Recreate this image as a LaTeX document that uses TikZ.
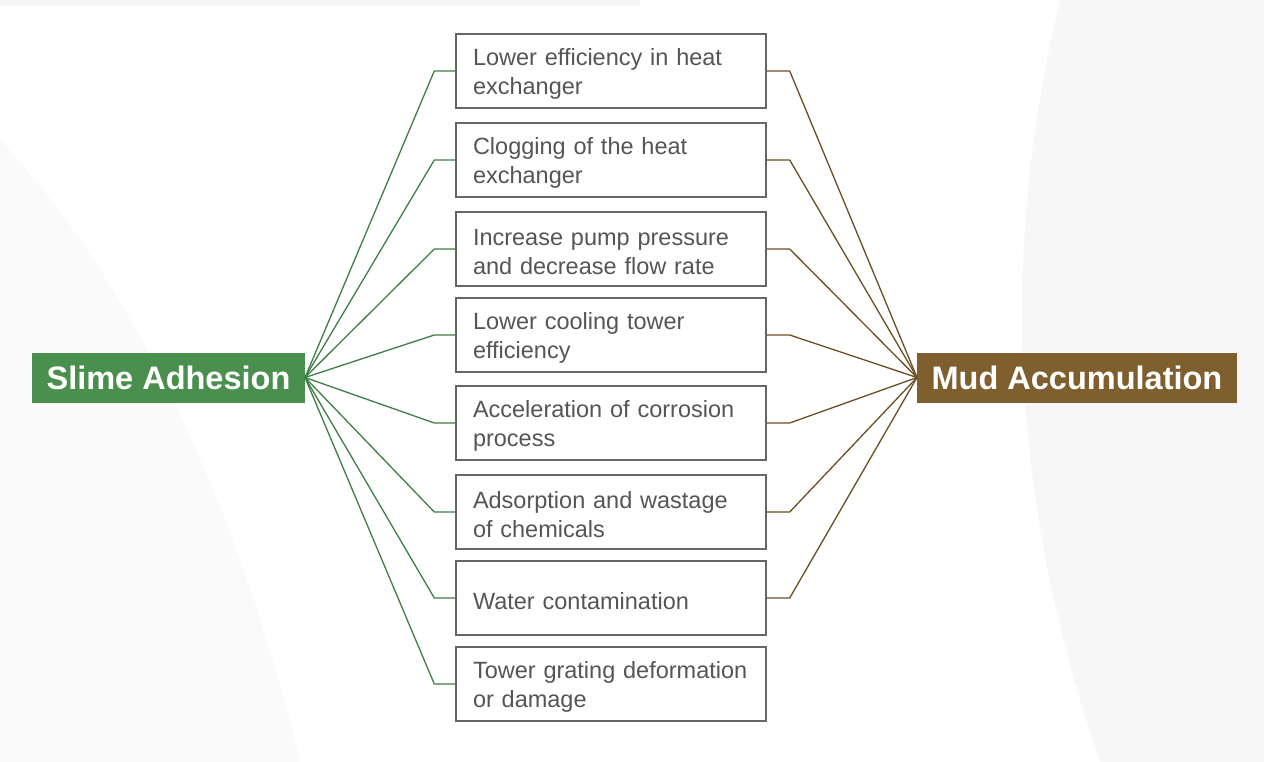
\documentclass[tikz,border=0pt]{standalone}
\usepackage{fontspec}
\setmainfont{Liberation Sans}
\definecolor{gr}{HTML}{4A8F4E}
\definecolor{grl}{HTML}{3F7E45}
\definecolor{br}{HTML}{7F5F2E}
\definecolor{brl}{HTML}{6B4E24}
\definecolor{tx}{HTML}{555555}
\begin{document}
\begin{tikzpicture}[x=1pt,y=-1pt,
  item/.style={draw=tx!90,line width=1.4pt,minimum width=310pt,minimum height=74pt,text width=276pt,align=left,inner sep=0pt,font=\fontsize{23.5}{29}\selectfont,text=tx,anchor=center},
  lbl/.style={text width=276pt,align=left,inner sep=0pt,font=\fontsize{23.5}{29}\selectfont,text=tx},
  title/.style={text=white,font=\bfseries\fontsize{32.5}{36}\selectfont,minimum height=50pt,inner sep=0pt},
  gline/.style={grl,line width=1.3pt},
  bline/.style={brl,line width=1.3pt}]
\useasboundingbox (0,0) rectangle (1264,762);
\fill[white] (0,0) rectangle (1264,762);
\fill[black!3] (1060,0) .. controls (1000,250) and (1010,500) .. (1100,762) -- (1264,762) -- (1264,0) -- cycle;
\fill[black!2] (0,140) .. controls (150,300) and (250,550) .. (300,762) -- (0,762) -- cycle;
\fill[black!4] (0,0) rectangle (640,6);
\node[title,fill=gr,minimum width=273pt] (S) at (168.5,377.5) {Slime Adhesion};
\node[title,fill=br,minimum width=320pt] (M) at (1077,377.5) {Mud Accumulation};
\coordinate (sp) at (305,377.5);
\coordinate (mp) at (917,377.5);
\foreach \i/\y/\t in {1/71/{Lower efficiency in heat\\exchanger},
  2/160/{Clogging of the heat\\exchanger},
  3/249/{Increase pump pressure\\and decrease flow rate},
  4/335/{Lower cooling tower\\efficiency},
  5/423/{Acceleration of corrosion\\process},
  6/512/{Adsorption and wastage\\of chemicals},
  7/598/{Water contamination},
  8/684/{Tower grating deformation\\or damage}}{
  \node[draw=tx!90,line width=1.4pt,minimum width=310pt,minimum height=74pt,inner sep=0pt] (b\i) at (611,\y) {};
  \node[lbl] (t\i) at (611,\y+3) {\t};
  \draw[gline] (sp) -- ([xshift=-21pt]b\i.west) -- (b\i.west);
}
\foreach \i in {1,...,7}{
  \draw[bline] (b\i.east) -- ([xshift=23pt]b\i.east) -- (mp);
}
\end{tikzpicture}
\end{document}
